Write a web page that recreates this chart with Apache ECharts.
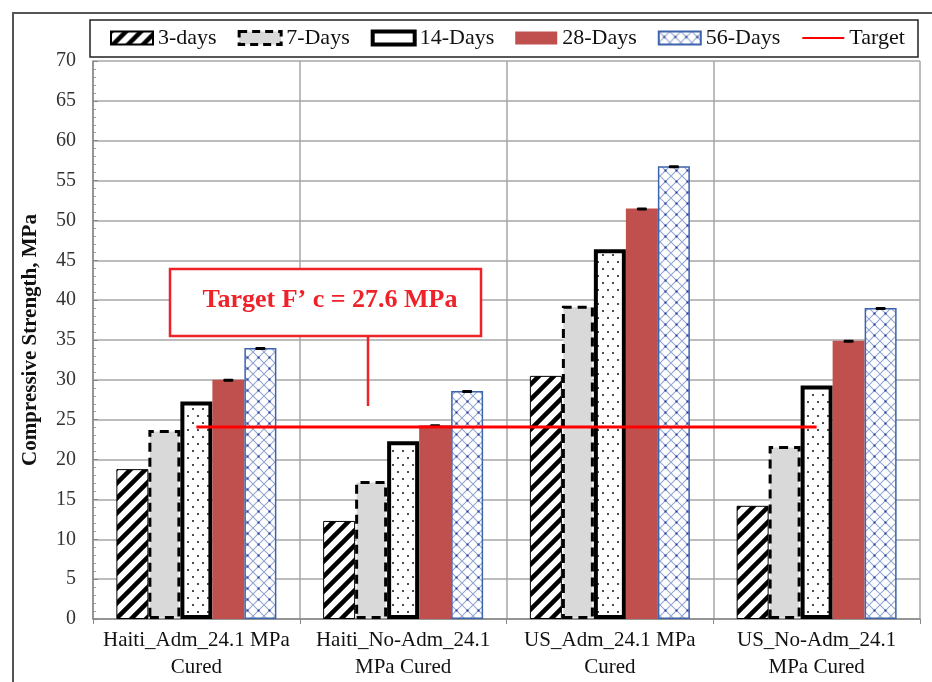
<!DOCTYPE html>
<html>
<head>
<meta charset="utf-8">
<script src="https://cdn.jsdelivr.net/npm/echarts@6/dist/echarts.min.js"></script>
<style>
html,body{margin:0;padding:0;background:#fff;}
#chart{width:932px;height:682px;}
</style>
</head>
<body>
<div id="chart"></div>
<script>
// ---- data ----
const categories = ['Haiti_Adm_24.1 MPa\nCured', 'Haiti_No-Adm_24.1\nMPa Cured', 'US_Adm_24.1 MPa\nCured', 'US_No-Adm_24.1\nMPa Cured'];
const seriesNames = ['3-days', '7-Days', '14-Days', '28-Days', '56-Days', 'Target'];
const days3  = [18.8, 12.3, 30.5, 14.2];
const days7  = [23.7, 17.3, 39.3, 21.7];
const days14 = [27.3, 22.3, 46.4, 29.3];
const days28 = [30.0, 24.3, 51.5, 34.9];
const days56 = [34.0, 28.6, 56.8, 39.0];
const target = [24.1, 24.1, 24.1, 24.1];
const yTicks = { min: 0, max: 70, interval: 5 };
const annotationText = 'Target F\u2019 c = 27.6 MPa';
const yAxisTitle = 'Compressive Strength, MPa';

// ---- patterns ----
function mk(w, h, draw) {
  const c = document.createElement('canvas');
  c.width = w; c.height = h;
  const g = c.getContext('2d');
  draw(g, w, h);
  return { image: c, repeat: 'repeat' };
}
const hatch = mk(15, 15, (g, w, h) => {
  g.fillStyle = '#fff'; g.fillRect(0, 0, w, h);
  g.strokeStyle = '#000'; g.lineWidth = 4.5;
  g.beginPath();
  g.moveTo(-3, h + 3); g.lineTo(w + 3, -3);
  g.moveTo(-3, 3); g.lineTo(3, -3);
  g.moveTo(w - 3, h + 3); g.lineTo(w + 3, h - 3);
  g.stroke();
});
const dots = mk(10, 14, (g, w, h) => {
  g.fillStyle = '#fff'; g.fillRect(0, 0, w, h);
  g.fillStyle = '#111';
  g.beginPath(); g.arc(3, 3, 1, 0, Math.PI * 2); g.fill();
  g.beginPath(); g.arc(8, 10, 1, 0, Math.PI * 2); g.fill();
});
const cross = mk(11, 11, (g, w, h) => {
  g.fillStyle = '#fff'; g.fillRect(0, 0, w, h);
  g.strokeStyle = '#93a6cf'; g.lineWidth = 1.1;
  g.beginPath();
  g.moveTo(0, 0); g.lineTo(w, h);
  g.moveTo(w, 0); g.lineTo(0, h);
  g.stroke();
  g.fillStyle = '#2b3f9e';
  g.fillRect(w / 2 - 1, h / 2 - 1, 2, 2);
});

const serif = 'Liberation Serif';
const capLabel = {
  show: true, position: 'top', distance: -2,
  formatter: '{c|}',
  rich: { c: { width: 10, height: 3, backgroundColor: '#000', borderRadius: 1 } }
};

const chart = echarts.init(document.getElementById('chart'), null, { renderer: 'canvas' });
const barBase = { type: 'bar', barWidth: 32, barGap: '0%', z: 2 };

chart.setOption({
  animation: false,
  backgroundColor: '#fff',
  textStyle: { fontFamily: serif },
  grid: { left: 93, right: 12, top: 61, bottom: 63 },
  legend: {
    top: 27, left: 110, padding: 0,
    itemWidth: 42, itemHeight: 13, itemGap: 21,
    textStyle: { fontFamily: serif, fontSize: 22, color: '#111' },
    data: [
      { name: seriesNames[0], icon: 'rect' },
      { name: seriesNames[1], icon: 'rect', itemStyle: { borderColor: '#000', borderWidth: 3, borderType: [8, 5] } },
      { name: seriesNames[2], icon: 'rect', itemStyle: { color: '#fff', borderColor: '#000', borderWidth: 4 } },
      { name: seriesNames[3], icon: 'rect' },
      { name: seriesNames[4], icon: 'rect' },
      { name: seriesNames[5], itemStyle: { color: 'rgba(0,0,0,0)', borderColor: 'rgba(0,0,0,0)', borderWidth: 0 } }
    ]
  },
  xAxis: {
    type: 'category', data: categories,
    axisLine: { lineStyle: { color: '#888', width: 1.5 } },
    axisTick: { show: true, interval: 0, length: 5, lineStyle: { color: '#888' } },
    splitLine: { show: true, interval: 0, lineStyle: { color: '#a6a6a6', width: 1.5 } },
    axisLabel: { interval: 0, fontFamily: serif, fontSize: 21, color: '#111', lineHeight: 27, margin: 8 }
  },
  yAxis: {
    type: 'value', min: yTicks.min, max: yTicks.max, interval: yTicks.interval,
    name: yAxisTitle, nameLocation: 'middle', nameGap: 52,
    nameTextStyle: { fontFamily: serif, fontSize: 21, fontWeight: 'bold', color: '#111' },
    axisLine: { show: true, lineStyle: { color: '#888', width: 1.5 } },
    axisTick: { show: true, inside: true, length: 5, lineStyle: { color: '#888' } },
    minorTick: { show: true, splitNumber: 5, length: 3, lineStyle: { color: '#999' } },
    splitLine: { show: true, lineStyle: { color: '#a6a6a6', width: 1.5 } },
    axisLabel: { fontFamily: serif, fontSize: 20, color: '#333', margin: 17 }
  },
  series: [
    Object.assign({}, barBase, {
      name: seriesNames[0], data: days3,
      itemStyle: { color: hatch, borderColor: '#000', borderWidth: 1 }
    }),
    Object.assign({}, barBase, {
      name: seriesNames[1], data: days7,
      itemStyle: { color: '#d9d9d9', borderColor: '#000', borderWidth: 3, borderType: [9, 6] }
    }),
    Object.assign({}, barBase, {
      name: seriesNames[2], data: days14,
      itemStyle: { color: dots, borderColor: '#000', borderWidth: 4 }
    }),
    Object.assign({}, barBase, {
      name: seriesNames[3], data: days28,
      itemStyle: { color: '#c0504d' },
      label: capLabel
    }),
    Object.assign({}, barBase, {
      name: seriesNames[4], data: days56,
      itemStyle: { color: cross, borderColor: '#3d63ad', borderWidth: 1.5 },
      label: capLabel
    }),
    {
      name: seriesNames[5], type: 'line', data: target, z: 5,
      symbol: 'none', lineStyle: { color: '#ff0000', width: 3 },
      itemStyle: { color: '#ff0000' }
    }
  ],
  graphic: [
    { type: 'rect', shape: { x: 13, y: 13, width: 940, height: 700 }, style: { fill: 'none', stroke: '#555', lineWidth: 2 }, silent: true, z: 0 },
    { type: 'rect', shape: { x: 90, y: 20, width: 828, height: 37 }, style: { fill: 'none', stroke: '#222', lineWidth: 1.5 }, silent: true },
    { type: 'line', shape: { x1: 368, y1: 336, x2: 368, y2: 406 }, style: { stroke: '#ee2229', lineWidth: 2.5 }, z: 10 },
    { type: 'rect', shape: { x: 170, y: 269, width: 311, height: 67 }, style: { fill: '#fff', stroke: '#ee2229', lineWidth: 2.5 }, z: 10 },
    { type: 'text', x: 330, y: 300, z: 11,
      style: { text: annotationText, fill: '#ee2229', font: 'bold 26px "Liberation Serif"', align: 'center', verticalAlign: 'middle' } }
  ]
});
</script>
</body>
</html>
